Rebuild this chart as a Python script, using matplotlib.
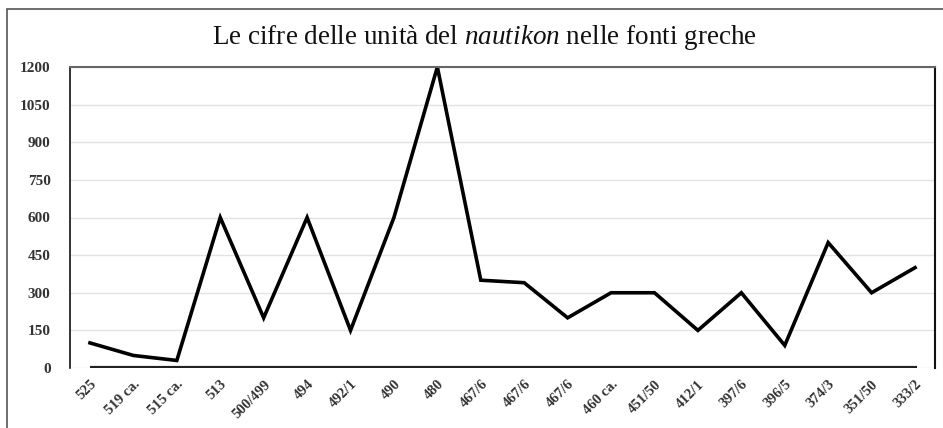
import numpy as np
import matplotlib.pyplot as plt
from matplotlib.patches import Rectangle

plt.rcParams['font.family'] = ['Liberation Serif', 'DejaVu Serif']
plt.rcParams['mathtext.fontset'] = 'custom'
plt.rcParams['mathtext.it'] = 'Liberation Serif:italic'
plt.rcParams['mathtext.rm'] = 'Liberation Serif'

labels = ["525", "519 ca.", "515 ca.", "513", "500/499", "494", "492/1", "490",
          "480", "467/6", "467/6", "467/6", "460 ca.", "451/50", "412/1",
          "397/6", "396/5", "374/3", "351/50", "333/2"]
ships = [100, 50, 30, 600, 200, 600, 150, 600, 1200, 350, 340, 200, 300,
         300, 150, 300, 90, 500, 300, 400]
yticks = [0, 150, 300, 450, 600, 750, 900, 1050, 1200]

fig = plt.figure(figsize=(9.43, 4.28), dpi=100)
ax = fig.add_axes([70 / 943, 1 - 368 / 428, 865 / 943, 301 / 428])

x = np.arange(len(ships))
ax.plot(x, ships, color='black', linewidth=2.6, solid_joinstyle='miter')
# thick baseline along the data range
ax.hlines(0, 0, len(ships) - 1 + 0.05, color='#222222', linewidth=3)

ax.set_xlim(-0.46, len(ships) - 1 + 0.46)
ax.set_ylim(0, 1200)
ax.set_yticks(yticks)
ax.set_yticklabels([str(v) for v in yticks], fontsize=11, color='#333333',
                   fontweight='bold')
ax.set_xticks(x)
ax.set_xticklabels(labels, rotation=45, ha='right', rotation_mode='anchor',
                   fontsize=10.5, color='#333333', fontweight='bold')
ax.tick_params(length=0)
ax.tick_params(axis='y', pad=14)
ax.tick_params(axis='x', pad=7)
ax.grid(axis='y', color='#e2e2e2', linewidth=1)
ax.set_axisbelow(True)

ax.spines['left'].set_color('#111111')
ax.spines['left'].set_linewidth(1.2)
ax.spines['right'].set_color('#111111')
ax.spines['right'].set_linewidth(1.5)
ax.spines['top'].set_color('#666666')
ax.spines['top'].set_linewidth(1.5)
ax.spines['bottom'].set_visible(False)

fig.text(484 / 943, 1 - 38 / 428,
         r"Le cifre delle unità del $\mathit{nautikon}$ nelle fonti greche",
         ha='center', va='center', fontsize=19.5, color='#111111')

# outer frame
fig.patches.append(Rectangle((7 / 943, -0.1), 1.2, 1 - 9 / 428 + 0.1,
                             transform=fig.transFigure, fill=False,
                             edgecolor='#555555', linewidth=1.2))

fig.savefig('out.png', dpi=100)
